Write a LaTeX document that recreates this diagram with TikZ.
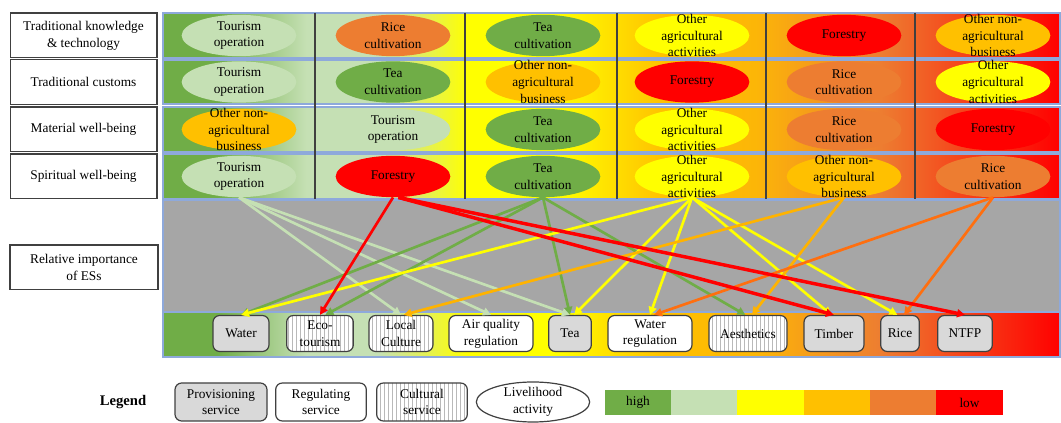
\documentclass[tikz,border=0pt]{standalone}
\usepackage{fontspec}
\setmainfont{Liberation Serif}
\usepackage{tikz}
\usetikzlibrary{arrows.meta, shapes.geometric, patterns, calc}

\definecolor{hi}{HTML}{70AD47}
\definecolor{midhi}{HTML}{C5E0B4}
\definecolor{mid}{HTML}{FFFF00}
\definecolor{midlo}{HTML}{FFC000}
\definecolor{lowish}{HTML}{ED7D31}
\definecolor{lo}{HTML}{FF0000}
\definecolor{panelgray}{HTML}{A6A6A6}
\definecolor{rowline}{HTML}{8EA9DB}
\definecolor{boxline}{HTML}{404040}
\definecolor{provfill}{HTML}{D9D9D9}
\definecolor{ricearrow}{HTML}{FF6F0F}
\definecolor{goldarrow}{HTML}{FFB300}

\pgfdeclarehorizontalshading{importance}{100bp}{color(0bp)=(hi); color(25bp)=(hi); color(28bp)=(hi);
  color(33bp)=(midhi); color(37bp)=(midhi); color(42bp)=(mid); color(47bp)=(mid);
  color(53bp)=(midlo); color(58bp)=(midlo!85!lowish); color(65bp)=(lowish);
  color(70bp)=(lowish!50!lo); color(75bp)=(lo); color(100bp)=(lo)}

\begin{document}
\begin{tikzpicture}[x=0.75pt, y=-0.75pt, font=\fontsize{10}{12.5}\selectfont,
    rowlabel/.style={draw=boxline, line width=1pt, fill=white, minimum width=110pt, minimum height=33.5pt, align=center},
    rowband/.style={shading=importance, draw=rowline, line width=1pt},
    act/.style={ellipse, minimum width=86pt, minimum height=31pt, inner sep=-8pt, align=center},
    es/.style={draw=boxline, line width=0.9pt, rounded corners=5pt, minimum height=27pt, inner sep=1pt, align=center},
    prov/.style={es, fill=provfill},
    regul/.style={es, fill=white},
    cult/.style={es, preaction={fill=white}, pattern=vertical lines, pattern color=gray!55},
    link/.style={-{Triangle[length=6pt,width=6pt]}, line width=2pt},
    barcell/.style={minimum width=49.7pt, minimum height=18.8pt, inner sep=0pt, outer sep=0pt}]

        \useasboundingbox (0,0) rectangle (1061,423);

        \node[rowlabel] (know) at (83.5,35.5) {Traditional knowledge\\\& technology};
        \node[rowlabel] (custom) at (83.5,82) {Traditional customs};
        \node[rowlabel] (material) at (83.5,129.5) {Material well-being};
        \node[rowlabel] (spirit) at (83.5,176.5) {Spiritual well-being};
        \node[rowlabel, minimum width=111pt] (relimp) at (84,267.5) {Relative importance\\of ESs};

        \path[rowband] (163,13) rectangle (1060,58);
        \path[rowband] (163,60) rectangle (1060,104);
        \path[rowband] (163,107) rectangle (1060,152);
        \path[rowband] (163,154) rectangle (1060,199);
        \filldraw[fill=panelgray, draw=rowline, line width=1pt] (163,200) rectangle (1060,312);
        \path[rowband] (163,312) rectangle (1060,357);

        \foreach \xd in {315,465,617,766,915}
            \draw[line width=0.9pt, black!75] (\xd,13) -- (\xd,199);

        \node[act, fill=midhi] (tour1) at (239,35.5) {Tourism\\operation};
        \node[act, fill=lowish] (rice1) at (393,35.5) {Rice\\cultivation};
        \node[act, fill=hi] (tea1) at (543,35.5) {Tea\\cultivation};
        \node[act, fill=mid] (agri1) at (692,35.5) {Other\\agricultural\\activities};
        \node[act, fill=lo] (fores1) at (844,35.5) {Forestry};
        \node[act, fill=midlo] (nonag1) at (993,35.5) {Other non-\\agricultural\\business};

        \node[act, fill=midhi] (tour2) at (239,82) {Tourism\\operation};
        \node[act, fill=hi] (tea2) at (393,82) {Tea\\cultivation};
        \node[act, fill=midlo] (nonag2) at (543,82) {Other non-\\agricultural\\business};
        \node[act, fill=lo] (fores2) at (692,82) {Forestry};
        \node[act, fill=lowish] (rice2) at (844,82) {Rice\\cultivation};
        \node[act, fill=mid] (agri2) at (993,82) {Other\\agricultural\\activities};

        \node[act, fill=midlo] (nonag3) at (239,129.5) {Other non-\\agricultural\\business};
        \node[act, fill=midhi] (tour3) at (393,129.5) {Tourism\\operation};
        \node[act, fill=hi] (tea3) at (543,129.5) {Tea\\cultivation};
        \node[act, fill=mid] (agri3) at (692,129.5) {Other\\agricultural\\activities};
        \node[act, fill=lowish] (rice3) at (844,129.5) {Rice\\cultivation};
        \node[act, fill=lo] (fores3) at (993,129.5) {Forestry};

        \node[act, fill=midhi] (tour4) at (239,176.5) {Tourism\\operation};
        \node[act, fill=lo] (fores4) at (393,176.5) {Forestry};
        \node[act, fill=hi] (tea4) at (543,176.5) {Tea\\cultivation};
        \node[act, fill=mid] (agri4) at (692,176.5) {Other\\agricultural\\activities};
        \node[act, fill=midlo] (nonag4) at (844,176.5) {Other non-\\agricultural\\business};
        \node[act, fill=lowish] (rice4) at (993,176.5) {Rice\\cultivation};

        \node[prov, minimum width=42pt] (water) at (241,333.5) {Water};
        \node[cult, minimum width=50pt] (eco) at (320,333.5) {Eco-\\tourism};
        \node[cult, minimum width=48pt] (local) at (401,333.5) {Local\\Culture};
        \node[regul, minimum width=63pt] (airq) at (491,333.5) {Air quality\\regulation};
        \node[prov, minimum width=32pt] (teaes) at (570,333.5) {Tea};
        \node[regul, minimum width=63pt] (waterreg) at (650,333.5) {Water\\regulation};
        \node[cult, minimum width=58.5pt] (aesth) at (748,333.5) {Aesthetics};
        \node[prov, minimum width=45pt] (timber) at (834,333.5) {Timber};
        \node[prov, minimum width=29pt] (ricees) at (900,333.5) {Rice};
        \node[prov, minimum width=41pt] (ntfp) at (965,333.5) {NTFP};

        \draw[link, midhi] (tour4.south) -- (local.north);
        \draw[link, midhi] (tour4.south) -- (airq.north);
        \draw[link, midhi] (tour4.south) -- (teaes.north);

        \draw[link, hi] (tea4.south) -- (water.north);
        \draw[link, hi] (tea4.south) -- ([xshift=4pt]eco.north);
        \draw[link, hi] (tea4.south) -- (teaes.north);
        \draw[link, hi] (tea4.south) -- ([xshift=-2pt]aesth.north);

        \draw[link, mid] (agri4.south) -- (water.north);
        \draw[link, mid] (agri4.south) -- ([xshift=3pt]teaes.north);
        \draw[link, mid] (agri4.south) -- (waterreg.north);
        \draw[link, mid] (agri4.south) -- ([xshift=-2pt]timber.north);
        \draw[link, mid] (agri4.south) -- ([xshift=-2pt]ricees.north);

        \draw[link, goldarrow] (nonag4.south) -- ([xshift=2pt]local.north);
        \draw[link, goldarrow] (nonag4.south) -- ([xshift=3pt]aesth.north);

        \draw[link, ricearrow] (rice4.south) -- ([xshift=3pt]waterreg.north);
        \draw[link, ricearrow] (rice4.south) -- ([xshift=3pt]ricees.north);

        \draw[link, lo] (fores4.south) -- (eco.north);
        \draw[link, lo, line width=2.6pt] ([xshift=4pt]fores4.south) -- (timber.north);
        \draw[link, lo, line width=2.6pt] ([xshift=4pt]fores4.south) -- (ntfp.north);

        \node[font=\fontsize{11}{13}\selectfont\bfseries] (legend) at (123,402) {Legend};
        \node[prov, minimum width=69pt, minimum height=28.5pt] (lprov) at (221,402) {Provisioning\\service};
        \node[regul, minimum width=68pt, minimum height=28.5pt] (lregul) at (321,402) {Regulating\\service};
        \node[cult, minimum width=68pt, minimum height=28.5pt] (lcult) at (422,402) {Cultural\\service};
        \node[ellipse, draw=boxline, line width=0.9pt, fill=white, minimum width=85pt, minimum height=30pt,
            inner sep=-6pt, align=center] (lact) at (533,402) {Livelihood\\activity};

        \node[barcell, fill=hi] (bar1) at (638,402.5) {high};
        \node[barcell, fill=midhi] (bar2) at (704.3,402.5) {};
        \node[barcell, fill=mid] (bar3) at (770.6,402.5) {};
        \node[barcell, fill=midlo] (bar4) at (836.9,402.5) {};
        \node[barcell, fill=lowish] (bar5) at (903.2,402.5) {};
        \node[barcell, fill=lo] (bar6) at (969.5,402.5) {low};

\end{tikzpicture}
\end{document}
